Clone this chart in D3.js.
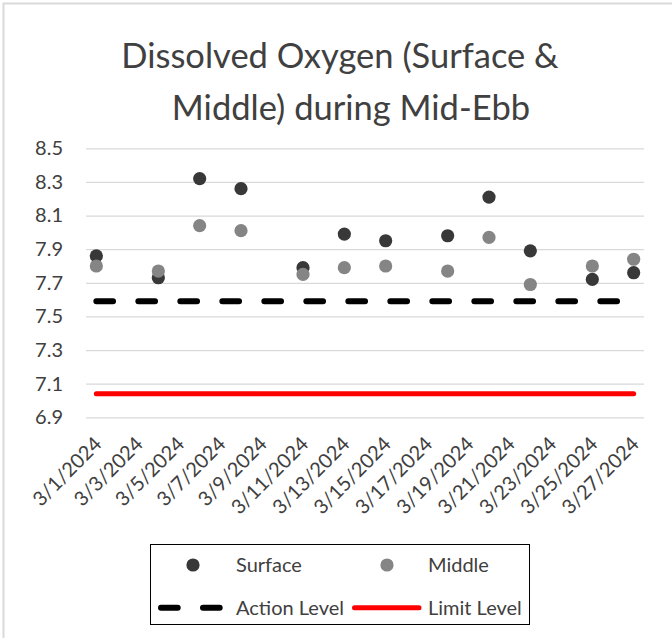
<!DOCTYPE html>
<html>
<head>
<meta charset="utf-8">
<script src="https://cdn.jsdelivr.net/npm/d3@7"></script>
<style>
  html, body { margin: 0; padding: 0; background: #fff; }
  svg { display: block; }
  text { font-family: Lato, "Open Sans", sans-serif; fill: #404040; }
</style>
</head>
<body>
<svg id="chart" width="672" height="638"></svg>
<script>
// ---- data ----
const title = ["Dissolved Oxygen (Surface &", "Middle) during Mid-Ebb"];
const sampleDates = ["2024-03-01","2024-03-04","2024-03-06","2024-03-08","2024-03-11","2024-03-13",
                     "2024-03-15","2024-03-18","2024-03-20","2024-03-22","2024-03-25","2024-03-27"];
const surface = [7.86, 7.73, 8.32, 8.26, 7.79, 7.99, 7.95, 7.98, 8.21, 7.89, 7.72, 7.76];
const middle  = [7.80, 7.77, 8.04, 8.01, 7.75, 7.79, 7.80, 7.77, 7.97, 7.69, 7.80, 7.84];
const actionLevel = 7.59;
const limitLevel = 7.04;
const xTickDates = ["2024-03-01","2024-03-03","2024-03-05","2024-03-07","2024-03-09","2024-03-11","2024-03-13",
                    "2024-03-15","2024-03-17","2024-03-19","2024-03-21","2024-03-23","2024-03-25","2024-03-27"];
const yTicks = [6.9, 7.1, 7.3, 7.5, 7.7, 7.9, 8.1, 8.3, 8.5];
const seriesNames = ["Surface", "Middle", "Action Level", "Limit Level"];

// ---- setup ----
const svg = d3.select("#chart");
const parse = d3.utcParse("%Y-%m-%d");
const fmtTick = d3.utcFormat("%-m/%-d/%Y");
const DAY = 864e5;

const plot = { left: 86, right: 644, top: 148.3, bottom: 417.3 };
const firstDay = parse(xTickDates[0]);
const lastDay = parse(xTickDates[xTickDates.length - 1]);
// date axis: each day occupies one slot, points centred in the slot
const x = d3.scaleUtc()
  .domain([new Date(+firstDay - DAY / 2), new Date(+lastDay + DAY / 2)])
  .range([plot.left, plot.right]);
const y = d3.scaleLinear().domain([6.9, 8.5]).range([plot.bottom, plot.top]);

const cDark = "#383838", cGray = "#858585", cRed = "#ff0000";

// chart border
svg.append("rect").attr("x", 3.5).attr("y", 3.5).attr("width", 700).attr("height", 700)
  .attr("fill", "none").attr("stroke", "#d9d9d9").attr("stroke-width", 2);

// title
svg.append("text").attr("x", 340).attr("y", 68.3).attr("text-anchor", "middle")
  .style("font-size", "34.5px").text(title[0]);
svg.append("text").attr("x", 351).attr("y", 120).attr("text-anchor", "middle")
  .style("font-size", "34.5px").text(title[1]);

// y axis with gridlines
const yAxis = d3.axisLeft(y).tickValues(yTicks).tickFormat(d3.format(".1f"))
  .tickSize(-(plot.right - plot.left)).tickPadding(23);
const gy = svg.append("g").attr("transform", `translate(${plot.left},0)`).call(yAxis);
gy.select(".domain").remove();
gy.selectAll(".tick line").attr("stroke", "#d9d9d9").attr("stroke-width", 1.3);
gy.selectAll(".tick text").style("font-size", "20px").attr("fill", "#404040")
  .attr("font-family", "Lato, 'Open Sans', sans-serif");

// x axis labels (rotated)
const xAxis = d3.axisBottom(x).tickValues(xTickDates.map(parse)).tickFormat(fmtTick).tickSize(0).tickPadding(0);
const gx = svg.append("g").attr("transform", `translate(0,${plot.bottom})`).call(xAxis);
gx.select(".domain").remove();
gx.selectAll(".tick text")
  .attr("text-anchor", "end")
  .attr("y", 0).attr("dy", "0.36em")
  .attr("transform", "translate(1,23) rotate(-45)")
  .style("font-size", "20px").attr("fill", "#404040")
  .attr("font-family", "Lato, 'Open Sans', sans-serif");

// level lines
const levelLine = d3.line().x(d => x(d[0])).y(d => y(d[1]));
svg.append("path").datum([[firstDay, actionLevel], [lastDay, actionLevel]])
  .attr("d", levelLine).attr("fill", "none").attr("stroke", "#000")
  .attr("stroke-width", 6).attr("stroke-linecap", "round").attr("stroke-dasharray", "16.7,25.3");
svg.append("path").datum([[firstDay, limitLevel], [lastDay, limitLevel]])
  .attr("d", levelLine).attr("fill", "none").attr("stroke", cRed)
  .attr("stroke-width", 5).attr("stroke-linecap", "round");

// points (per date; surface drawn in front where it sits under the middle reading late in the month)
const surfaceFront = new Set(["2024-03-25", "2024-03-27"]);
const R = 6.6;
const pts = svg.append("g");
sampleDates.forEach((ds, i) => {
  const pair = [
    { v: surface[i], c: cDark, s: "Surface" },
    { v: middle[i], c: cGray, s: "Middle" }
  ];
  if (surfaceFront.has(ds)) pair.reverse();
  pair.forEach(p => {
    pts.append("circle").attr("cx", x(parse(ds))).attr("cy", y(p.v)).attr("r", R)
      .attr("fill", p.c).attr("class", p.s);
  });
});

// legend
const lg = svg.append("g");
lg.append("rect").attr("x", 150.5).attr("y", 544.5).attr("width", 379).attr("height", 80)
  .attr("fill", "#fff").attr("stroke", "#000").attr("stroke-width", 1);
const row1 = 565, row2 = 607.7;
lg.append("circle").attr("cx", 193).attr("cy", row1).attr("r", R).attr("fill", cDark);
lg.append("text").attr("x", 236).attr("y", row1).attr("dy", "0.36em").style("font-size", "20px").text(seriesNames[0]);
lg.append("circle").attr("cx", 387).attr("cy", row1).attr("r", R).attr("fill", cGray);
lg.append("text").attr("x", 428).attr("y", row1).attr("dy", "0.36em").style("font-size", "20px").text(seriesNames[1]);
lg.append("line").attr("x1", 161).attr("x2", 220).attr("y1", row2).attr("y2", row2)
  .attr("stroke", "#000").attr("stroke-width", 6).attr("stroke-linecap", "round").attr("stroke-dasharray", "16.7,25.3");
lg.append("text").attr("x", 236).attr("y", row2).attr("dy", "0.36em").style("font-size", "20px").text(seriesNames[2]);
lg.append("line").attr("x1", 354.5).attr("x2", 419).attr("y1", row2).attr("y2", row2)
  .attr("stroke", cRed).attr("stroke-width", 5).attr("stroke-linecap", "round");
lg.append("text").attr("x", 428).attr("y", row2).attr("dy", "0.36em").style("font-size", "20px").text(seriesNames[3]);
</script>
</body>
</html>
